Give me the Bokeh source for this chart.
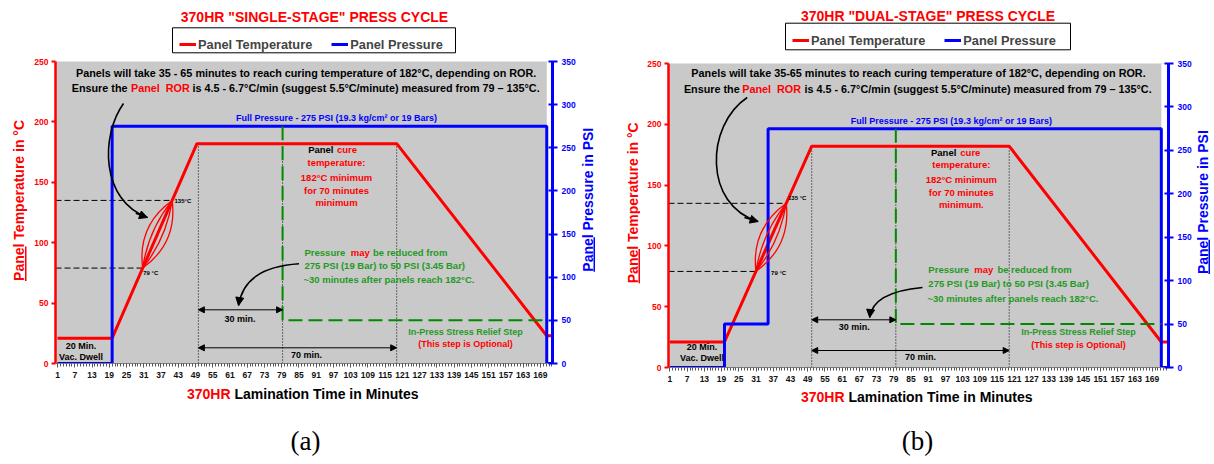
import math
import numpy as np
from bokeh.plotting import figure
from bokeh.layouts import row, column
from bokeh.models import (Range1d, LinearAxis, FixedTicker, Label, Legend, LegendItem,
                          Arrow, NormalHead, BoxAnnotation)
from bokeh.embed import file_html
from bokeh.resources import INLINE

FONT = "Liberation Sans"
SERIF = "Liberation Serif"
RED = "#ff0000"
BLUE = "#0000ff"
GREEN_LINE = "#008a00"
GREEN_TEXT = "#1f9a1f"
GRAY = "#c9c9c9"

# ---------------- data ----------------
x_ticks = [1, 7, 13, 19, 25, 31, 37, 43, 49, 55, 61, 67, 73, 79, 85, 91, 97, 103,
           109, 115, 121, 127, 133, 139, 145, 151, 157, 163, 169]
temp_ticks = [0, 50, 100, 150, 200, 250]
press_ticks = [0, 50, 100, 150, 200, 250, 300, 350]
ror_temps = [79, 135]

# (a) single-stage press cycle
a_temp_time = [1, 20, 49.5, 119, 171.2, 173.2]
a_temp = [21, 21, 182, 182, 23, 23]
a_press_time = [1, 20, 20, 171.2, 171.2, 173.2]
a_press = [0, 0, 275, 275, 0, 0]
a_relief_time = [79.3, 79.3, 171.2]
a_relief_press = [275, 50, 50]
a_marks = [50, 79.3, 119]

# (b) dual-stage press cycle
b_temp_time = [1, 20, 50.4, 119.2, 172.2, 174.7]
b_temp = [21, 21, 182, 182, 21, 21]
b_press_time = [1, 20, 20, 35.2, 35.2, 172.2, 172.2, 174.7]
b_press = [0, 0, 50, 50, 275, 275, 0, 0]
b_relief_time = [79.7, 79.7, 172.2]
b_relief_press = [275, 50, 50]
b_marks = [50.4, 79.7, 119.2]

a_title = '370HR "SINGLE-STAGE" PRESS CYCLE'
b_title = '370HR "DUAL-STAGE" PRESS CYCLE'
a_top1 = "Panels will take 35 - 65 minutes to reach curing temperature of 182°C, depending on ROR."
b_top1 = "Panels will take 35-65 minutes to reach curing temperature of 182°C, depending on ROR."
legend_labels = ["Panel Temperature", "Panel Pressure"]


def add_label(f, x, y, text, size, color="black", align="center", baseline="middle",
              angle=0.0, style="bold", font=FONT):
    f.add_layout(Label(x=x, y=y, text=text, text_font=font, text_font_size=f"{size}px",
                       text_font_style=style, text_color=color, text_align=align,
                       text_baseline=baseline, angle=angle))


def page_fig(x0, x1, y0, y1):
    """A bare figure whose data coordinates equal page pixels (y grows downward)."""
    f = figure(width=x1 - x0, height=y1 - y0, x_range=Range1d(x0, x1),
               y_range=Range1d(y1, y0), x_axis_type=None, y_axis_type=None,
               output_backend="svg", toolbar_location=None, min_border=0,
               min_border_left=0, min_border_right=0, min_border_top=0,
               min_border_bottom=0, outline_line_color=None,
               background_fill_color="white", border_fill_color="white")
    return f


def build_main(cfg, d):
    FL, FR, FT, FB = cfg["frame"]
    xa0, xa1 = cfg["xr"]
    kx = (FR - FL) / (xa1 - xa0)
    ky = (FB - FT) / 250.0

    def X(px):
        return xa0 + (px - FL) / kx

    def Y(py):
        return (FB - py) / ky

    mx0, mx1, my0, my1 = cfg["main_box"]
    p = figure(width=mx1 - mx0, height=my1 - my0, x_range=Range1d(xa0, xa1),
               y_range=Range1d(0, 250), output_backend="svg", toolbar_location=None,
               min_border_left=FL - mx0, min_border_right=mx1 - FR,
               min_border_top=FT - my0, min_border_bottom=my1 - FB,
               background_fill_color=GRAY, border_fill_color="white",
               outline_line_color=None)
    p.extra_y_ranges = {"press": Range1d(0, 350)}
    p.xgrid.visible = False
    p.ygrid.visible = False

    xa = p.xaxis[0]
    xa.ticker = FixedTicker(ticks=x_ticks, minor_ticks=list(range(1, int(xa1) + 1)))
    xa.axis_line_color = "#808080"
    xa.major_tick_line_color = "#555555"
    xa.minor_tick_line_color = "#555555"
    xa.major_tick_out = 4
    xa.major_tick_in = 0
    xa.minor_tick_out = 3
    xa.minor_tick_in = 0
    xa.major_label_text_font = FONT
    xa.major_label_text_font_style = "bold"
    xa.major_label_text_font_size = "8.5px"
    xa.major_label_text_color = "#111111"
    xa.major_label_standoff = 4

    ya = p.yaxis[0]
    ya.ticker = FixedTicker(ticks=temp_ticks)
    ya.axis_line_color = RED
    ya.axis_line_width = 2.5
    ya.major_tick_line_color = RED
    ya.major_tick_line_width = 2
    ya.major_tick_out = 4
    ya.major_tick_in = 0
    ya.minor_tick_line_color = None
    ya.major_label_text_font = FONT
    ya.major_label_text_font_style = "bold"
    ya.major_label_text_font_size = "8.5px"
    ya.major_label_text_color = RED
    ya.major_label_standoff = 3

    ra = LinearAxis(y_range_name="press", ticker=FixedTicker(ticks=press_ticks))
    ra.axis_line_color = BLUE
    ra.axis_line_width = 3
    ra.major_tick_line_color = BLUE
    ra.major_tick_line_width = 2
    ra.major_tick_in = 4
    ra.major_tick_out = 5
    ra.minor_tick_line_color = None
    ra.major_label_text_font = FONT
    ra.major_label_text_font_style = "bold"
    ra.major_label_text_font_size = "8.5px"
    ra.major_label_text_color = BLUE
    ra.major_label_standoff = 4
    p.add_layout(ra, "right")

    # white strip after the press opens
    p.add_layout(BoxAnnotation(left=d["press_time"][-2], fill_color="white", fill_alpha=1,
                               line_color=None, level="underlay"))

    def lab(px, py, text, size, color="black", align="center"):
        add_label(p, X(px), Y(py), text, size, color, align)

    def curved_arrow(P0, C1, C2, P3):
        p.bezier(x0=[X(P0[0])], y0=[Y(P0[1])], x1=[X(P3[0])], y1=[Y(P3[1])],
                 cx0=[X(C1[0])], cy0=[Y(C1[1])], cx1=[X(C2[0])], cy1=[Y(C2[1])],
                 line_color="black", line_width=1.6)
        sx = P3[0] - 0.25 * (P3[0] - C2[0])
        sy = P3[1] - 0.25 * (P3[1] - C2[1])
        p.add_layout(Arrow(end=NormalHead(size=8, fill_color="black", line_color="black"),
                           x_start=X(sx), y_start=Y(sy), x_end=X(P3[0]), y_end=Y(P3[1]),
                           line_color="black", line_width=1.6))

    plateau = max(d["temp"])
    marks = d["marks"]
    p.segment(x0=marks, y0=[0] * len(marks), x1=marks, y1=[plateau] * len(marks),
              line_color="black", line_width=1, line_dash="1 2")

    ror_x = list(np.interp(ror_temps, [d["temp"][1], d["temp"][2]],
                           [d["temp_time"][1], d["temp_time"][2]]))
    p.segment(x0=[xa0, xa0], y0=ror_temps, x1=ror_x, y1=ror_temps,
              line_color="black", line_width=1, line_dash="6 3")

    p.line(d["temp_time"], d["temp"], line_color=RED, line_width=3)
    p.line(d["press_time"], d["press"], y_range_name="press", line_color=BLUE, line_width=3)
    p.line(d["relief_time"], d["relief_press"], y_range_name="press",
           line_color=GREEN_LINE, line_width=2, line_dash="14 6")

    # ROR lenses between the 79 and 135 degC points
    ax, ay = (ror_x[0] - xa0) * kx, ror_temps[0] * ky
    bx, by = (ror_x[1] - xa0) * kx, ror_temps[1] * ky
    L = math.hypot(bx - ax, by - ay)
    nx, ny = (by - ay) / L, -(bx - ax) / L
    mx, my = (ax + bx) / 2, (ay + by) / 2
    ks = [-22, -10, 10, 22]
    p.quadratic(x0=[ror_x[0]] * 4, y0=[ror_temps[0]] * 4, x1=[ror_x[1]] * 4,
                y1=[ror_temps[1]] * 4,
                cx=[xa0 + (mx + k * nx) / kx for k in ks],
                cy=[(my + k * ny) / ky for k in ks],
                line_color=RED, line_width=1.3)

    t1 = cfg["top1"]
    lab(t1[0], t1[1], t1[2], 10.8)
    t2 = cfg["top2"]
    lab(t2[0], t2[3], "Ensure the", 10.8, align="right")
    lab(t2[1], t2[3], "Panel\u00a0 ROR", 10.8, RED, align="left")
    lab(t2[2], t2[3], "is 4.5 - 6.7°C/min (suggest 5.5°C/minute) measured from 79 – 135°C.",
        10.8, align="left")

    fp = cfg["full"]
    lab(fp[0], fp[1], "Full Pressure - 275 PSI (19.3 kg/cm² or 19 Bars)", 9, BLUE)

    cu = cfg["cure"]
    lab(cu["panel_r"], cu["ys"][0], "Panel", 9.5, align="right")
    lab(cu["cure_l"], cu["ys"][0], "cure", 9.5, RED, align="left")
    for yy, tt in zip(cu["ys"][1:], cu["lines"]):
        lab(cu["cx"], yy, tt, 9.5, RED)

    l135 = cfg["l135"]
    lab(l135[0], l135[1], l135[2], 6, align="left")
    l79 = cfg["l79"]
    lab(l79[0], l79[1], l79[2], 6, align="left")

    g = cfg["green"]
    lab(g["x"], g["ys"][0], "Pressure", 9.5, GREEN_TEXT, align="left")
    lab(g["may"], g["ys"][0], "may", 9.5, RED, align="left")
    lab(g["rest"], g["ys"][0], "be reduced from", 9.5, GREEN_TEXT, align="left")
    lab(g["x"], g["ys"][1], "275 PSI (19 Bar) to 50 PSI (3.45 Bar)", 9.5, GREEN_TEXT, align="left")
    lab(g["x2"], g["ys"][2], "~30 minutes after panels reach 182°C.", 9.5, GREEN_TEXT, align="left")

    curved_arrow(*cfg["ror_arrow"])
    curved_arrow(*cfg["green_arrow"])

    for (m0, m1, spec, tt) in [(marks[0], marks[1], cfg["a30"], "30 min."),
                               (marks[0], marks[2], cfg["a70"], "70 min.")]:
        p.add_layout(Arrow(start=NormalHead(size=6, fill_color="black", line_color="black"),
                           end=NormalHead(size=6, fill_color="black", line_color="black"),
                           x_start=m0, y_start=Y(spec[0]), x_end=m1, y_end=Y(spec[0]),
                           line_color="black", line_width=1))
        lab(spec[1], spec[2], tt, 9)

    rl = cfg["relief"]
    lab(rl[0], rl[1], "In-Press Stress Relief Step", 9, GREEN_TEXT)
    lab(rl[0], rl[2], "(This step is Optional)", 9, RED)

    dw = cfg["dwell"]
    lab(dw[0], dw[1], "20 Min.", 9)
    lab(dw[0], dw[2], "Vac. Dwell", 9)
    return p


def build_panel(cfg, d):
    p = build_main(cfg, d)
    mx0, mx1, my0, my1 = cfg["main_box"]
    X0, X1, Y1 = cfg["panel_x0"], cfg["panel_x1"], cfg["panel_y1"]

    # header: title + legend
    hdr = page_fig(X0, X1, 0, my0)
    add_label(hdr, cfg["title"][0], cfg["title"][1], cfg["title"][2], 14, RED)
    lb = cfg["legbox"]
    hdr.quad(left=[lb[0]], right=[lb[2]], top=[lb[1]], bottom=[lb[3]],
             fill_color="white", line_color="black", line_width=1)
    # legend proxies (placed off-canvas; only their style is shown in the legend)
    r_t = hdr.line(x=[X0 - 30, X0 - 20], y=[-20, -20], line_color=RED, line_width=3)
    r_p = hdr.line(x=[X0 - 30, X0 - 20], y=[-20, -20], line_color=BLUE, line_width=3)
    pad = 4
    leg = Legend(items=[LegendItem(label=legend_labels[0], renderers=[r_t]),
                        LegendItem(label=legend_labels[1], renderers=[r_p])],
                 orientation="horizontal",
                 location=(cfg["leg_gx"] - pad - X0, my0 - (cfg["leg_cy"] + 12)),
                 padding=pad, spacing=19, glyph_width=17, glyph_height=16,
                 label_height=16, label_standoff=2, margin=0, border_line_color=None,
                 background_fill_alpha=0, label_text_font=FONT,
                 label_text_font_style="bold", label_text_font_size="12.8px")
    hdr.add_layout(leg)

    # left strip: temperature axis title ("Panel" underlined)
    sl = page_fig(X0, mx0, my0, my1)
    yl = cfg["ytl"]
    add_label(sl, yl[0] - 4.8, yl[1], "Panel Temperature in °C", 14, RED, align="left",
              baseline="middle", angle=math.pi / 2)
    sl.quad(left=[yl[0] + 1.0], right=[yl[0] + 2.5], top=[yl[1] - 37.5], bottom=[yl[1]],
            fill_color=RED, line_color=None)

    # right strip: pressure axis title ("Panel" underlined)
    sr = page_fig(mx1, X1, my0, my1)
    yr = cfg["ytr"]
    add_label(sr, yr[0] - 4.8, yr[1], "Panel Pressure in PSI", 14, BLUE, align="left",
              baseline="middle", angle=math.pi / 2)
    sr.quad(left=[yr[0] + 1.0], right=[yr[0] + 2.5], top=[yr[1] - 37.5], bottom=[yr[1]],
            fill_color=BLUE, line_color=None)

    # footer: x-axis title + caption
    ft = page_fig(X0, X1, my1, Y1)
    xt = cfg["xtitle"]
    add_label(ft, xt[0], xt[2], "370HR", 14, RED, align="right")
    add_label(ft, xt[1], xt[2], "Lamination Time in Minutes", 14, align="left")
    cp = cfg["caption"]
    add_label(ft, cp[0], cp[1], cp[2], 27, style="normal", font=SERIF)

    return column(hdr, row(sl, p, sr), ft)


cfg_a = dict(
    panel_x0=0, panel_x1=608, panel_y1=462, main_box=(28, 580, 56, 385),
    frame=(55, 552, 61, 363), xr=(0.3, 173.2),
    title=(314, 16, a_title), legbox=(172, 27.3, 455, 52.3), leg_gx=183, leg_cy=40,
    top1=(305.6, 72.5, a_top1), top2=(127, 130.5, 192, 87.5),
    full=(336, 117.5),
    cure=dict(panel_r=333, cure_l=336.5, cx=336, ys=[149, 162, 176.5, 190, 202],
              lines=["temperature:", "182°C minimum", "for 70 minutes", "minimum"]),
    l135=(174, 200.7, "135°C"), l79=(142.7, 272.7, "79 °C"),
    green=dict(x=304, x2=303, may=350.2, rest=372.4, ys=[251.7, 265, 279.3]),
    ror_arrow=((123, 103), (100, 135), (100, 200), (147, 217)),
    green_arrow=((298.5, 263.3), (260, 266), (242, 280), (238, 305)),
    a30=(309.3, 239.4, 318.5), a70=(347.3, 306, 354.5),
    relief=(465, 331.7, 343.3), dwell=(80.4, 345, 356),
    xtitle=(230, 234, 393), ytl=(23.5, 295), ytr=(592, 285), caption=(305, 440, "(a)"),
)
cfg_b = dict(
    panel_x0=608, panel_x1=1214, panel_y1=462, main_box=(640, 1194, 56, 389),
    frame=(668, 1170, 63, 367), xr=(0.5, 174.7),
    title=(927.5, 15.7, b_title), legbox=(785, 22.7, 1070, 49.3), leg_gx=796, leg_cy=36,
    top1=(919, 72.3, b_top1), top2=(739.5, 742, 804.5, 88.3),
    full=(952, 120),
    cure=dict(panel_r=957, cure_l=961, cx=962, ys=[151.7, 164.3, 179, 191.7, 204],
              lines=["temperature:", "182°C minimum", "for 70 minutes", "minimum."]),
    l135=(788, 197.3, "135 °C"), l79=(771, 272.7, "79 °C"),
    green=dict(x=928.9, x2=928, may=975, rest=998.2, ys=[269.3, 283.3, 297.7]),
    ror_arrow=((747, 97), (705, 125), (703, 205), (758, 221)),
    green_arrow=((923, 287), (890, 290), (872, 300), (870, 317)),
    a30=(319.3, 854.5, 326.7), a70=(350, 921, 356.7),
    relief=(1079.6, 331.7, 344), dwell=(701.7, 346.7, 357.7),
    xtitle=(844, 848, 396.7), ytl=(637, 296.7), ytr=(1207, 286.7), caption=(917, 440, "(b)"),
)

data_a = dict(temp_time=a_temp_time, temp=a_temp, press_time=a_press_time, press=a_press,
              relief_time=a_relief_time, relief_press=a_relief_press, marks=a_marks)
data_b = dict(temp_time=b_temp_time, temp=b_temp, press_time=b_press_time, press=b_press,
              relief_time=b_relief_time, relief_press=b_relief_press, marks=b_marks)

layout = row(build_panel(cfg_a, data_a), build_panel(cfg_b, data_b))
open("out.html", "w").write(file_html(layout, INLINE))
